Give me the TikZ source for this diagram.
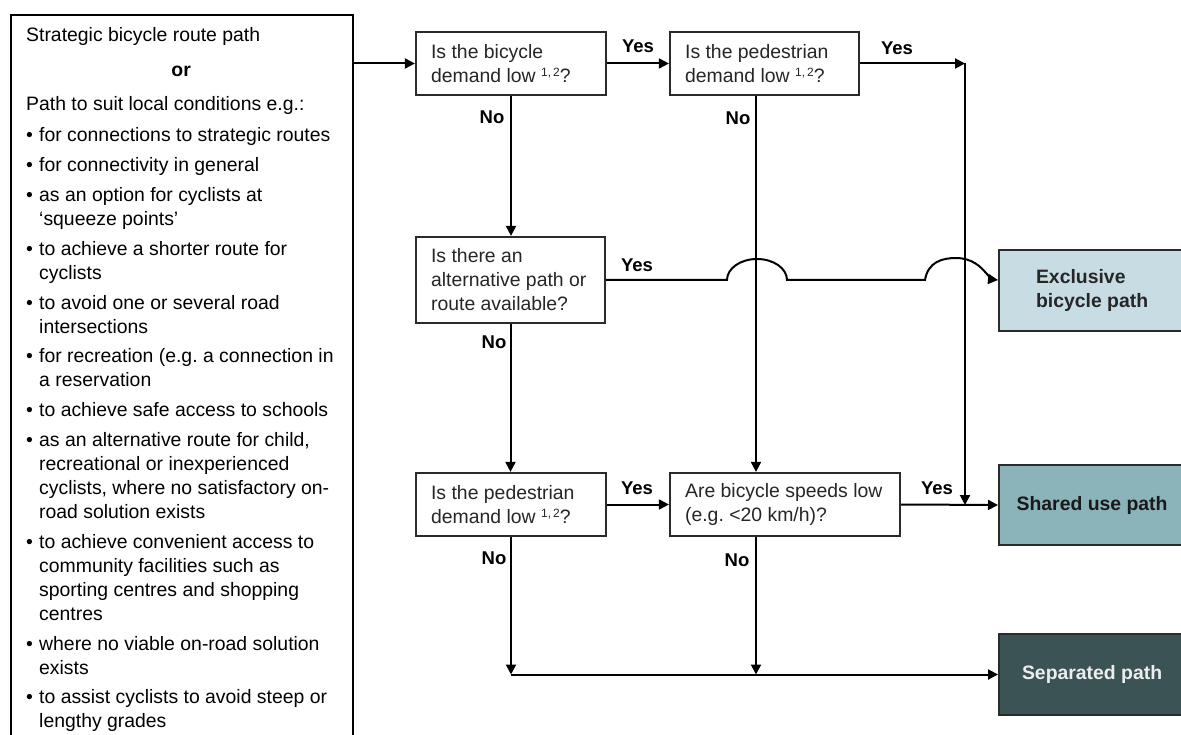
\documentclass[tikz,border=0pt]{standalone}
\usepackage{fontspec}
\setmainfont{Liberation Sans}
\usetikzlibrary{arrows.meta}
\definecolor{exc}{HTML}{C8DDE3}
\definecolor{shr}{HTML}{8AB4B9}
\definecolor{sepc}{HTML}{3B5355}
\definecolor{ink}{HTML}{262626}
\definecolor{edgec}{HTML}{2B2B2B}
\newcommand{\bitem}{\makebox[13pt][l]{•}}
\newcommand{\cont}{\hspace*{13pt}}
\newcommand{\sups}{\raisebox{6pt}{\fontsize{12}{12}\selectfont 1,\,2}}
\begin{document}
\begin{tikzpicture}[x=1pt,y=-1pt,
  qbox/.style={draw=edgec, line width=2.2pt, fill=white, inner sep=0pt},
  qtxt/.style={anchor=west, align=left, inner sep=0pt, text=ink,
    font=\fontsize{19.4}{24}\selectfont},
  rbox/.style={draw=edgec, line width=2.2pt, minimum width=186pt, inner sep=0pt,
    font=\fontsize{19.4}{24}\selectfont\bfseries, align=left, anchor=west},
  lbl/.style={font=\fontsize{18.5}{20}\selectfont\bfseries, inner sep=0pt},
  arr/.style={line width=2pt, -{Triangle[length=10pt,width=10pt]}}]
\useasboundingbox (0,0) rectangle (1181,735);
\clip (0,0) rectangle (1181,735);

% source box
\node[draw=black, line width=2pt, anchor=north west, minimum width=342pt,
  minimum height=745pt, inner sep=0pt] (src) at (10,14) {};
\node[anchor=base west, inner sep=0pt, font=\fontsize{19.4}{24}\selectfont] (srctext) at (26,42)
{\parbox[t]{330pt}{\raggedright
Strategic bicycle route path\\[11pt]
\makebox[310pt]{\bfseries or}\\[10pt]
Path to suit local conditions e.g.:\\[7pt]
\bitem for connections to strategic routes\\[5.8pt]
\bitem for connectivity in general\\[5.8pt]
\bitem as an option for cyclists at\\
\cont ‘squeeze points’\\[5.8pt]
\bitem to achieve a shorter route for\\
\cont cyclists\\[5.8pt]
\bitem to avoid one or several road\\
\cont intersections\\[5.8pt]
\bitem for recreation (e.g.\ a connection in\\
\cont a reservation\\[5.8pt]
\bitem to achieve safe access to schools\\[5.8pt]
\bitem as an alternative route for child,\\
\cont recreational or inexperienced\\
\cont cyclists, where no satisfactory on-\\
\cont road solution exists\\[5.8pt]
\bitem to achieve convenient access to\\
\cont community facilities such as\\
\cont sporting centres and shopping\\
\cont centres\\[5.8pt]
\bitem where no viable on-road solution\\
\cont exists\\[5.8pt]
\bitem to assist cyclists to avoid steep or\\
\cont lengthy grades}};

% decision boxes
\node[qbox, minimum width=190pt, minimum height=63pt] (b1) at (511,63.5) {};
\node[qbox, minimum width=189pt, minimum height=63pt] (b2) at (764.5,63.5) {};
\node[qbox, minimum width=189pt, minimum height=86pt] (b3) at (510.5,280) {};
\node[qbox, minimum width=190pt, minimum height=63pt] (b4) at (511,504.5) {};
\node[qbox, minimum width=230pt, minimum height=63pt] (b5) at (785,504.5) {};
\node[qtxt] (t1) at ([xshift=16pt]b1.west) {Is the bicycle\\demand low \sups?};
\node[qtxt] (t2) at ([xshift=16pt]b2.west) {Is the pedestrian\\demand low \sups?};
\node[qtxt] (t3) at ([xshift=16pt]b3.west) {Is there an\\alternative path or\\route available?};
\node[qtxt] (t4) at ([xshift=16pt]b4.west) {Is the pedestrian\\demand low \sups?};
\node[qtxt] (t5) at ([xshift=16pt]b5.west) {Are bicycle speeds low\\(e.g.\ <20 km/h)?};

% result boxes
\node[rbox, fill=exc, text=ink, minimum height=81pt] (ex) at (998,290.5) {Exclusive\\bicycle path};
\node[rbox, fill=shr, text=black!90, minimum height=80pt] (sh) at (998,505) {Shared use path};
\node[rbox, fill=sepc, text=white!93!black, minimum height=81pt] (sep) at (998,674.5) {Separated path};

% helper coordinates
\coordinate (colB) at (756,0);
\coordinate (c1) at (965,63.5);
\coordinate (c2) at (965,505);
\coordinate (j1) at (b4.south |- sep.west);
\coordinate (j2) at (colB |- sep.west);
\coordinate (exin) at ([yshift=10.5pt]ex.west);

% connectors
\draw[arr] (b1.west -| src.east) -- (b1.west);
\draw[arr] (b1.east) -- (b2.west);
\draw[arr] (b2.east) -- (c1);
\draw[arr] (c1) -- (c2);
\draw[arr] (b1.south) -- (b3.north -| b1.south);
\draw[arr] (b2.south -| colB) -- (b5.north -| colB);
\draw[arr] (b3.south) -- (b3.south |- b4.north);
\draw[arr] (b4.east) -- (b5.west);
\draw[arr] (b5.east) -- (sh.west);
\draw[arr] (b4.south) -- (j1);
\draw[arr] (b5.south -| colB) -- (j2);
\draw[arr] (j1) -- (sep.west);
\draw[arr] (b3.east) -- (727,280) arc[start angle=180, end angle=360, x radius=30, y radius=21]
  -- (925,280) .. controls (928,262) and (942,258) .. (956,258)
  .. controls (972,258) and (981,267) .. (986,273)
  .. controls (990,278) and (993,279.5) .. (exin);

% labels
\node[lbl] (y1) at (638,46) {Yes};
\node[lbl] (y2) at (897,48) {Yes};
\node[lbl] (y3) at (637,265) {Yes};
\node[lbl] (y4) at (637,488) {Yes};
\node[lbl] (y5) at (937,488) {Yes};
\node[lbl] (n1) at (492,117) {No};
\node[lbl] (n2) at (738,118) {No};
\node[lbl] (n3) at (494,342) {No};
\node[lbl] (n4) at (494,558) {No};
\node[lbl] (n5) at (737,560) {No};
\end{tikzpicture}
\end{document}
